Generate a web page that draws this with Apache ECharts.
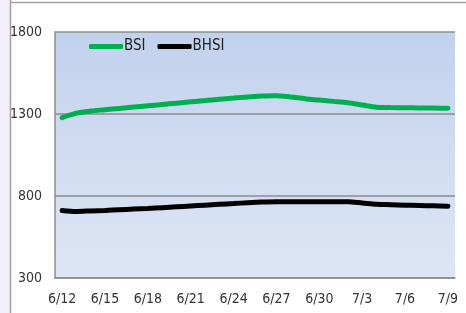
<!DOCTYPE html>
<html>
<head>
<meta charset="utf-8">
<script src="https://cdn.jsdelivr.net/npm/echarts@6/dist/echarts.min.js"></script>
<style>
  html, body { margin: 0; padding: 0; background: #fff; }
  #chart { width: 466px; height: 313px; }
</style>
</head>
<body>
<div id="chart"></div>
<script>
// 日期（每日）
const dates = [
  '6/12', '6/13', '6/14', '6/15', '6/16', '6/17', '6/18', '6/19', '6/20', '6/21',
  '6/22', '6/23', '6/24', '6/25', '6/26', '6/27', '6/28', '6/29', '6/30',
  '7/1', '7/2', '7/3', '7/4', '7/5', '7/6', '7/7', '7/8', '7/9',
]

// BSI
const bsi = [
  1278, 1305, 1318, 1326, 1334, 1342, 1350, 1358, 1366, 1374,
  1382, 1390, 1397, 1404, 1410, 1412, 1404, 1393, 1385,
  1377, 1369, 1355, 1341, 1339, 1338, 1337, 1336, 1335,
]

// BHSI
const bhsi = [
  712, 706, 709, 712, 716, 720, 724, 729, 734, 739,
  744, 749, 754, 759, 763, 765, 765, 765, 765,
  765, 765, 758, 750, 747, 744, 742, 740, 737,
]

const font = '"Liberation Sans Narrow", "DejaVu Sans Condensed", sans-serif'

const chart = echarts.init(document.getElementById('chart'))

chart.setOption({
  animation: false,
  backgroundColor: '#fff',
  textStyle: { fontFamily: font },
  graphic: [
    { type: 'rect', shape: { x: 0, y: 0, width: 10, height: 313 }, style: { fill: '#f4f0fb' }, silent: true },
    { type: 'line', shape: { x1: 10.5, y1: 0, x2: 10.5, y2: 313 }, style: { stroke: '#a0a0a0', lineWidth: 1.5 }, silent: true },
    { type: 'line', shape: { x1: 10, y1: 2.5, x2: 466, y2: 2.5 }, style: { stroke: '#a0a0a0', lineWidth: 1.5 }, silent: true },
  ],
  grid: {
    left: 55,
    right: 11,
    top: 32,
    bottom: 35,
    show: true,
    borderWidth: 0,
    backgroundColor: new echarts.graphic.LinearGradient(0, 0, 0, 1, [
      { offset: 0, color: '#c2d2ed' },
      { offset: 1, color: '#dde6f5' },
    ]),
  },
  legend: {
    left: 84,
    top: 34,
    icon: 'roundRect',
    itemWidth: 34,
    itemHeight: 5,
    itemGap: 12,
    textStyle: { fontFamily: font, fontSize: 15, color: '#222', padding: [0, 0, 0, -4] },
    data: ['BSI', 'BHSI'],
  },
  xAxis: {
    type: 'category',
    data: dates,
    boundaryGap: true,
    axisLine: { lineStyle: { color: '#8c8c8c', width: 1.5 } },
    axisTick: { show: false },
    axisLabel: {
      interval: 2,
      color: '#333',
      fontSize: 14,
      margin: 14,
    },
  },
  yAxis: {
    type: 'value',
    min: 300,
    max: 1800,
    interval: 500,
    axisLine: { show: true, lineStyle: { color: '#8c8c8c', width: 1.5 } },
    axisTick: { show: false },
    axisLabel: { color: '#333', fontSize: 14, margin: 13, formatter: v => String(v) },
    splitLine: { lineStyle: { color: '#8c8c8c', width: 1.5 } },
  },
  series: [
    {
      name: 'BSI',
      type: 'line',
      data: bsi,
      smooth: 0.3,
      showSymbol: false,
      lineStyle: { color: '#00b050', width: 5, cap: 'round' },
      itemStyle: { color: '#00b050' },
    },
    {
      name: 'BHSI',
      type: 'line',
      data: bhsi,
      smooth: 0.3,
      showSymbol: false,
      lineStyle: { color: '#000', width: 5, cap: 'round' },
      itemStyle: { color: '#000' },
    },
  ],
})
</script>
</body>
</html>
